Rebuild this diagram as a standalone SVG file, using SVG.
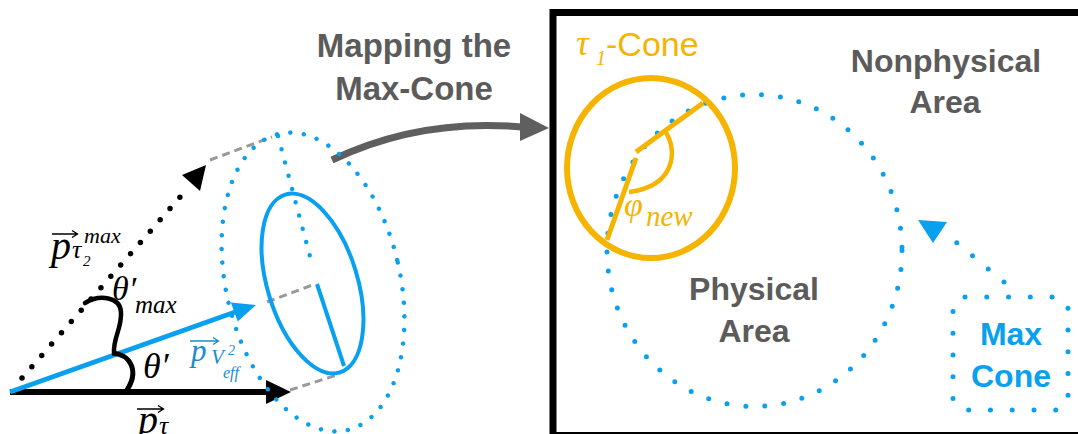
<svg xmlns="http://www.w3.org/2000/svg" width="1078" height="434" viewBox="0 0 1078 434">
<style>
.gt{font-family:"Liberation Sans",Arial,sans-serif;font-weight:bold;fill:#5b5b5b;text-anchor:middle}
.bt{font-family:"Liberation Sans",Arial,sans-serif;font-weight:bold;fill:#0aa0f0;text-anchor:middle;font-size:32px}
.m{font-family:"Liberation Serif","Times New Roman",serif;font-style:italic}
.vec{fill:none;stroke-width:1.3}
.dash{fill:none;stroke:#999;stroke-width:3;stroke-dasharray:8 5}
.bdot{fill:none;stroke:#0aa0f0;stroke-linecap:round}
.or{fill:none;stroke:#f5b400}
</style>
<rect width="1078" height="434" fill="#fff"/>

<g id="connectors">
  <line x1="10" y1="392" x2="268" y2="392" stroke="#000" stroke-width="6"/>
  <polygon points="266,380 291,392 266,404" fill="#000"/>
  <line x1="10" y1="392" x2="238" y2="311" stroke="#0aa0f0" stroke-width="5"/>
  <polygon points="230.9,302.6 256,305 237.7,321.6" fill="#0aa0f0"/>
  <line x1="22" y1="378" x2="188" y2="188" stroke="#000" stroke-width="5.5" stroke-linecap="round" stroke-dasharray="0 15"/>
  <polygon points="182,175 206,165 200,191" fill="#000"/>
  <line class="dash" x1="210" y1="160" x2="272" y2="137"/>
  <line class="dash" x1="267" y1="302" x2="315" y2="284"/>
  <line class="dash" x1="290" y1="390" x2="340" y2="374"/>
  <path d="M332,160 Q420,118 522,127" fill="none" stroke="#5f5f5f" stroke-width="7"/>
  <polygon points="520,113 549,128 520,141" fill="#5f5f5f"/>
  <line class="bdot" x1="1004" y1="282" x2="956" y2="242" stroke-width="5" stroke-dasharray="0 20.5"/>
  <polygon points="918,220 947,222 933,243" fill="#0aa0f0"/>
</g>

<g id="angles">
  <path d="M85,303 C100,294 120,297 121,312 C122,328 113,338 114,353" fill="none" stroke="#000" stroke-width="4.5" stroke-linecap="round"/>
  <path d="M112,353 C130,354 141,371 125,393" fill="none" stroke="#000" stroke-width="5"/>
</g>

<g id="label-ptau2max">
  <path class="vec" stroke="#000" d="M52,234 H77 M72,230.5 L77.5,234 L72,237.5"/>
  <text class="m" x="51" y="259" font-size="40">p</text>
  <text class="m" x="72" y="258" font-size="26">τ</text>
  <text class="m" x="83" y="266" font-size="15" font-style="normal">2</text>
  <text class="m" x="84" y="243" font-size="22">max</text>
</g>
<g id="label-thetamax">
  <text class="m" x="112" y="300" font-size="34">θ′</text>
  <text class="m" x="135" y="313" font-size="25">max</text>
</g>
<g id="label-theta">
  <text class="m" x="143" y="378" font-size="36">θ′</text>
</g>
<g id="label-pV">
  <path class="vec" stroke="#1b8ad0" d="M190,341 H218 M213,337.5 L218.5,341 L213,344.5"/>
  <text class="m" x="191" y="361" font-size="31" fill="#1b8ad0">p</text>
  <text class="m" x="211" y="364" font-size="21" fill="#1b8ad0">V</text>
  <text class="m" x="228" y="355" font-size="14" fill="#1b8ad0" font-style="normal">2</text>
  <text class="m" x="223" y="378" font-size="16" fill="#1b8ad0">eff</text>
</g>
<g id="label-ptau2">
  <path class="vec" stroke="#000" d="M137,409 H163 M158,405.5 L163.5,409 L158,412.5"/>
  <text class="m" x="138" y="433" font-size="40">p</text>
  <text class="m" x="159" y="434" font-size="26">τ</text>
</g>

<g id="max-cone-3d">
  <ellipse class="bdot" cx="313" cy="282" rx="87" ry="152" transform="rotate(-13 313 282)" stroke-width="4.5" stroke-dasharray="0 13.6"/>
  <ellipse cx="312.5" cy="283.5" rx="45" ry="93" transform="rotate(-17 312.5 283.5)" fill="none" stroke="#0aa0f0" stroke-width="4"/>
  <line class="bdot" x1="278" y1="136" x2="311" y2="260" stroke-width="4.5" stroke-dasharray="0 13.7"/>
  <line x1="317" y1="284" x2="344" y2="366" stroke="#0aa0f0" stroke-width="4"/>
</g>

<g id="mapping-label">
  <text class="gt" x="414" y="57" font-size="33">Mapping the</text>
  <text class="gt" x="414" y="100" font-size="33">Max-Cone</text>
</g>

<g id="panel">
  <rect x="553" y="12.5" width="540" height="423" fill="none" stroke="#000" stroke-width="7"/>
</g>

<g id="physical-area">
  <ellipse class="bdot" cx="754.5" cy="250.5" rx="147.5" ry="156" stroke-width="5" stroke-dasharray="0 19"/>
  <text class="gt" x="754" y="300" font-size="32">Physical</text>
  <text class="gt" x="754" y="342" font-size="32">Area</text>
</g>

<g id="nonphysical-area">
  <text class="gt" x="946" y="72" font-size="32">Nonphysical</text>
  <text class="gt" x="945" y="113" font-size="32">Area</text>
</g>

<g id="tau1-cone">
  <ellipse class="or" cx="651" cy="168" rx="84" ry="90" stroke-width="6"/>
  <line class="or" x1="636" y1="152" x2="703" y2="103" stroke-width="5"/>
  <line class="or" x1="636" y1="158" x2="607" y2="240" stroke-width="5"/>
  <path class="or" d="M665,131 C678,150 676,186 629,192" stroke-width="4.5"/>
  <text class="m" x="576" y="55" font-size="36" fill="#f5b400">τ</text>
  <text class="m" x="596" y="65" font-size="20" fill="#f5b400" font-style="normal">1</text>
  <text x="606" y="56" font-size="34" fill="#f5b400" font-family="Liberation Sans,Arial,sans-serif">-Cone</text>
  <text class="m" x="624" y="216" font-size="34" fill="#f5b400">φ</text>
  <text class="m" x="646" y="226" font-size="29" fill="#f5b400">new</text>
</g>

<g id="max-cone-box">
  <rect class="bdot" x="953" y="297" width="115" height="113" rx="12" stroke-width="5" stroke-dasharray="0 21.77"/>
  <text class="bt" x="1011" y="345">Max</text>
  <text class="bt" x="1011" y="387">Cone</text>
</g>
</svg>
